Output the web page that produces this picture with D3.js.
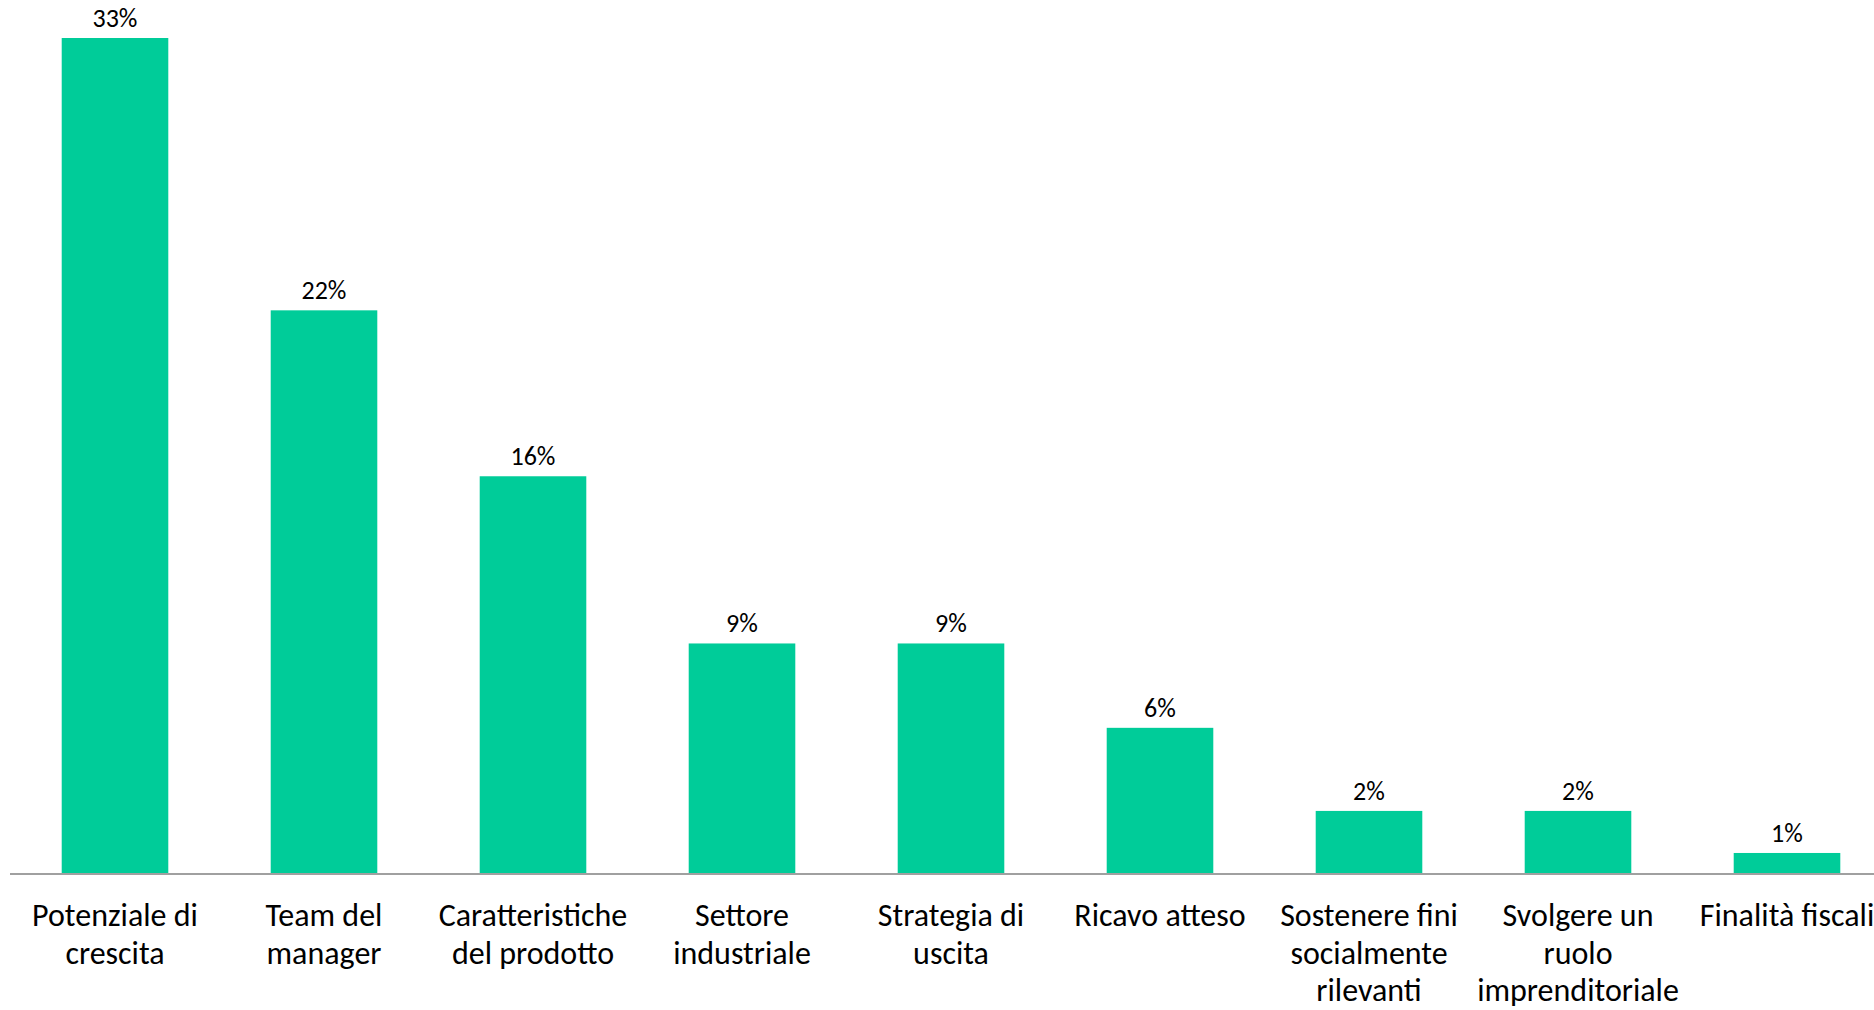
<!DOCTYPE html>
<html>
<head>
<meta charset="utf-8">
<script src="https://cdn.jsdelivr.net/npm/d3@7"></script>
<style>
  html, body { margin: 0; padding: 0; background: #ffffff; overflow: hidden; }
  svg { display: block; }
  text { font-family: Carlito, Calibri, Lato, "Open Sans", sans-serif; fill: #000; }
</style>
</head>
<body>
<svg id="chart" width="1874" height="1010"></svg>
<script>
const categories = [
  ["Potenziale di", "crescita"],
  ["Team del", "manager"],
  ["Caratteristiche", "del prodotto"],
  ["Settore", "industriale"],
  ["Strategia di", "uscita"],
  ["Ricavo atteso"],
  ["Sostenere fini", "socialmente", "rilevanti"],
  ["Svolgere un", "ruolo", "imprenditoriale"],
  ["Finalità fiscali"]
];
const values = [33.0, 22.25, 15.7, 9.1, 9.1, 5.77, 2.49, 2.49, 0.83];
const valueLabels = ["33%", "22%", "16%", "9%", "9%", "6%", "2%", "2%", "1%"];

const W = 1874, H = 1010;
const svg = d3.select("#chart");
const baseY = 874;
const ids = d3.range(categories.length);

const x = d3.scaleBand().domain(ids).range([10.5, 1891.5]).paddingInner(0.49).paddingOuter(0.245);
const y = d3.scaleLinear().domain([0, 33]).range([baseY, 38]);

svg.append("g").selectAll("rect").data(ids).join("rect")
  .attr("x", i => x(i))
  .attr("y", i => y(values[i]))
  .attr("width", x.bandwidth())
  .attr("height", i => baseY - y(values[i]))
  .attr("fill", "#00CC99");

// axis line
const axis = d3.axisBottom(x).tickSize(0).tickFormat("");
const ag = svg.append("g").attr("transform", `translate(0,${baseY})`).call(axis);
ag.select(".domain").attr("d", `M10,0H${W}`).attr("stroke", "#a0a0a0").attr("stroke-width", 2);

// value labels
svg.append("g").selectAll("text").data(ids).join("text")
  .attr("x", i => x(i) + x.bandwidth() / 2)
  .attr("y", i => y(values[i]) - 11)
  .attr("text-anchor", "middle")
  .style("font-size", "26px")
  .text(i => valueLabels[i]);

// category labels
const cg = svg.append("g").selectAll("text").data(ids).join("text")
  .attr("text-anchor", "middle")
  .style("font-size", "32px");
cg.each(function(i) {
  const t = d3.select(this);
  categories[i].forEach((line, k) => {
    t.append("tspan")
      .attr("x", x(i) + x.bandwidth() / 2)
      .attr("y", baseY + 52 + k * 37.5)
      .text(line);
  });
});
</script>
</body>
</html>
